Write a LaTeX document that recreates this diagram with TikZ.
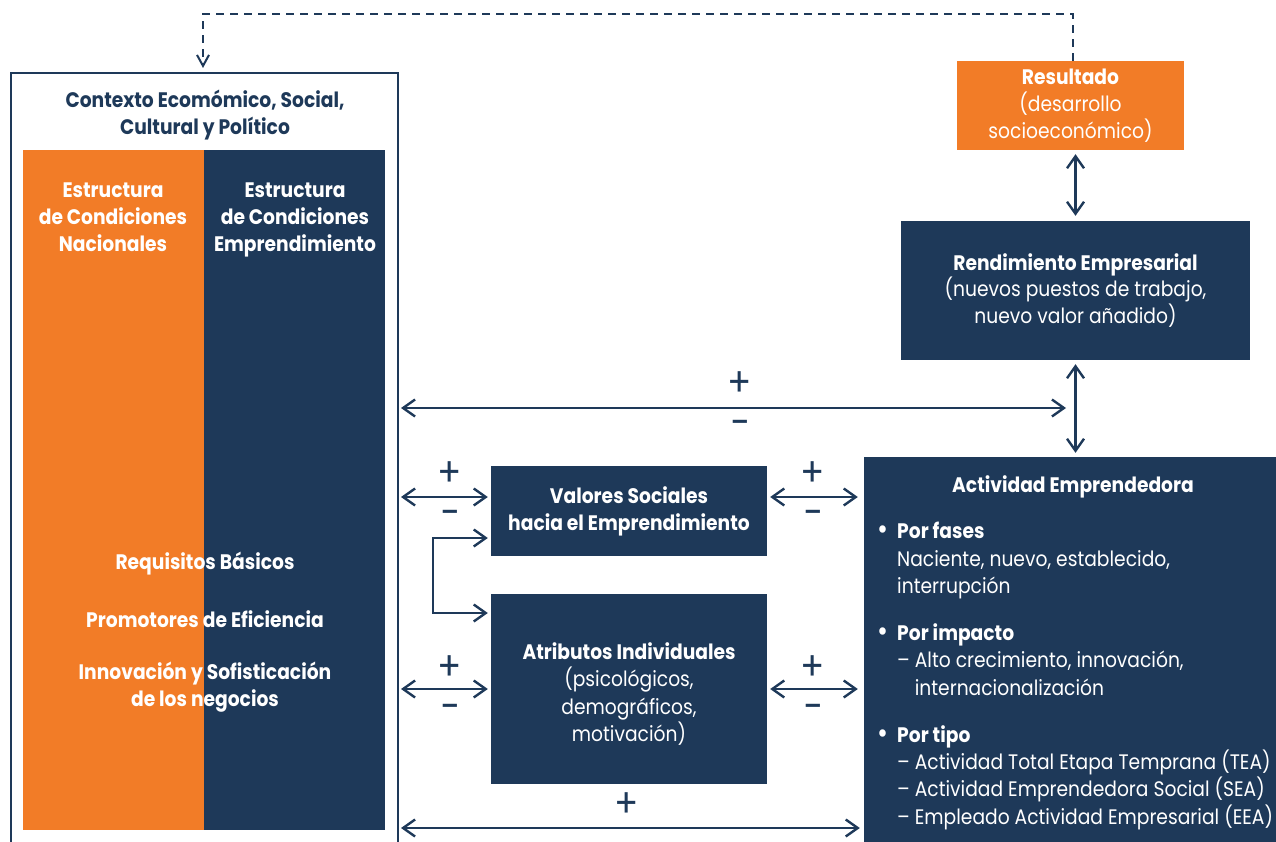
\documentclass[tikz,border=0pt]{standalone}
\usepackage{fontspec}
\setmainfont{Poppins}[FakeStretch=0.89]
\usetikzlibrary{arrows.meta}
\definecolor{navy}{RGB}{30,57,89}
\definecolor{orng}{RGB}{242,124,39}
\tikzset{mybarb/.tip={Straight Barb[length=12pt,width=17pt,line width=2.4pt]},
  smallbarb/.tip={Straight Barb[length=11pt,width=12pt,line width=2pt]}}
\newcommand{\bul}{\makebox[20pt][l]{\raisebox{-1pt}{\fontsize{30}{20}\selectfont •}}}
\begin{document}
\begin{tikzpicture}[x=1pt,y=-1pt,
  box/.style={draw=none,text=white,align=center,inner sep=0pt,font=\fontsize{21}{26.8}\selectfont},
  dbox/.style={box,fill=navy},
  obox/.style={box,fill=orng},
  con/.style={draw=navy,line width=2.4pt,mybarb-mybarb},
  sgn/.style={text=navy,inner sep=0pt,font=\fontsize{40}{40}\selectfont},
  wt/.style={text=white,align=center,inner sep=0pt,font=\bfseries\fontsize{21}{26.8}\selectfont},
  lst/.style={text=white,align=left,inner sep=0pt,anchor=north west,font=\fontsize{21}{27.4}\selectfont}
]
\useasboundingbox (0,0) rectangle (1276,842);
% left context frame
\node[draw=navy,line width=2pt,minimum width=387pt,minimum height=787pt,inner sep=0pt] (ctx) at (204.5,466.5) {};
\node[text=navy,align=center,inner sep=0pt,font=\bfseries\fontsize{21}{26.5}\selectfont] (ctxt) at (205,115) {Contexto Ecomómico, Social,\\Cultural y Político};
\node[obox,minimum width=181pt,minimum height=680pt] (ecn) at (113.5,490) {};
\node[dbox,minimum width=181pt,minimum height=680pt] (ece) at (294.5,490) {};
\node[wt,anchor=north] (ecnt) at (113,183) {Estructura\\de Condiciones\\Nacionales};
\node[wt,anchor=north] (ecet) at (295,183) {Estructura\\de Condiciones\\Emprendimiento};
\node[wt] (req) at (205,564) {Requisitos Básicos};
\node[wt] (prom) at (205,619) {Promotores de Eficiencia};
\node[wt] (inn) at (205,687) {Innovación y Sofisticación\\de los negocios};
% right column
\node[obox,minimum width=227pt,minimum height=89pt] (res) at (1070.5,105.5) {\textbf{Resultado}\\(desarrollo\\socioeconómico)};
\node[dbox,minimum width=349pt,minimum height=139pt] (ren) at (1075.5,290.5) {\textbf{Rendimiento Empresarial}\\(nuevos puestos de trabajo,\\nuevo valor añadido)};
\node[dbox,minimum width=412pt,minimum height=390pt] (act) at (1070,652) {};
\node[wt] (actt) at (1073,487) {Actividad Emprendedora};
\node[lst] (actl) at (877,522) {%
\bul\textbf{Por fases}\\
\hspace*{20pt}Naciente, nuevo, establecido,\\
\hspace*{20pt}interrupción\\[19.5pt]
\bul\textbf{Por impacto}\\
\hspace*{20pt}– Alto crecimiento, innovación,\\
\hspace*{20pt}\phantom{– }internacionalización\\[19.5pt]
\bul\textbf{Por tipo}\\
\hspace*{20pt}– Actividad Total Etapa Temprana (TEA)\\
\hspace*{20pt}– Actividad Emprendedora Social (SEA)\\
\hspace*{20pt}– Empleado Actividad Empresarial (EEA)};
% middle boxes
\node[dbox,font=\bfseries\fontsize{21}{27}\selectfont,minimum width=276pt,minimum height=90pt] (val) at (629,511) {Valores Sociales\\hacia el Emprendimiento};
\node[dbox,minimum width=276pt,minimum height=190pt] (atr) at (629,689) {};
\node[box,font=\fontsize{21}{27.2}\selectfont] (atrt) at (629,694) {\textbf{Atributos Individuales}\\(psicológicos,\\demográficos,\\motivación)};
% dashed feedback
\coordinate (ctxtop) at (203,68);
\draw[navy,line width=2pt,dash pattern=on 8pt off 6pt,-smallbarb] ([xshift=2pt]res.north) -- ++(0,-47) -| (ctxtop);
% vertical arrows
\draw[con,shorten <=4pt,shorten >=5pt] (ren.north |- res.south) -- (ren.north);
\draw[con,shorten <=4pt,shorten >=4pt] (ren.south) -- (ren.south |- act.north);
% long horizontal arrow
\coordinate (hre) at (1066,408);
\draw[con,shorten <=2pt] (ctx.east |- hre) -- (hre);
\node[sgn] (p1) at (740,384) {+};
\node[sgn] (m1) at (740,428) {−};
% left to valores
\draw[con,shorten <=2pt,shorten >=3pt] (ctx.east |- 0,497) -- (val.west |- 0,497);
\node[sgn] (p2) at (450,474) {+};
\node[sgn] (m2) at (450,518) {−};
\draw[con,shorten <=3pt,shorten >=6pt] (val.east |- 0,497) -- (act.west |- 0,497);
\node[sgn] (p3) at (813,474) {+};
\node[sgn] (m3) at (813,518) {−};
% left to atributos
\draw[con,shorten <=2pt,shorten >=3pt] (ctx.east |- atr.west) -- (atr.west);
\node[sgn] (p4) at (450,668) {+};
\node[sgn] (m4) at (450,712) {−};
\draw[con,shorten <=3pt,shorten >=6pt] (atr.east) -- (act.west |- atr.east);
\node[sgn] (p5) at (813,668) {+};
\node[sgn] (m5) at (813,712) {−};
% bracket valores -> atributos
\draw[draw=navy,line width=2.4pt,mybarb-mybarb,shorten <=3pt,shorten >=3pt] (val.west |- 0,538) -- (433,538) |- (atr.west |- 0,613);
% bottom arrow
\draw[con,shorten <=2pt,shorten >=4pt] (ctx.east |- 0,828) -- (act.west |- 0,828);
\node[sgn] (p6) at (627,805) {+};
\end{tikzpicture}
\end{document}
